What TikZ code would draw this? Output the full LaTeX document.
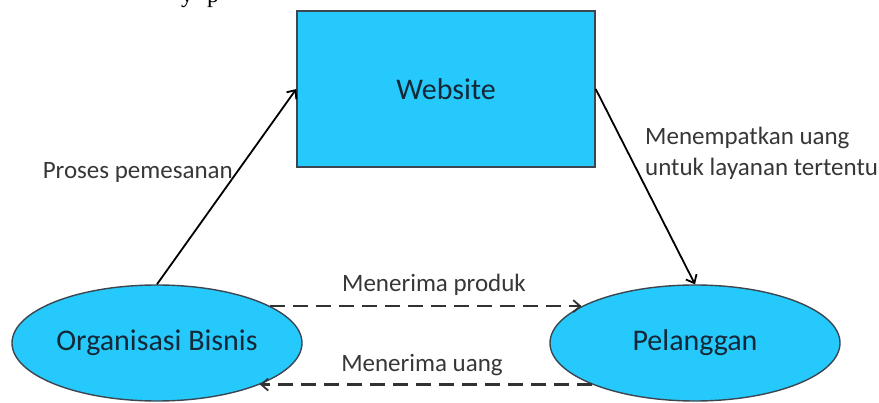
\documentclass[tikz,border=0pt]{standalone}
\usepackage{fontspec}
\setmainfont{Carlito}
\newfontfamily\seriffont{Liberation Serif}
\usetikzlibrary{shapes.geometric,arrows.meta}
\definecolor{boxfill}{RGB}{38,201,252}
\definecolor{boxline}{RGB}{60,70,80}
\definecolor{nodetext}{RGB}{20,40,55}
\definecolor{labeltext}{RGB}{55,55,55}
\definecolor{dashline}{RGB}{50,50,50}
\tikzset{
  entity/.style={draw=boxline, line width=1.4pt, fill=boxfill, text=nodetext, font=\fontsize{30}{34}\selectfont},
  webbox/.style={entity, rectangle, minimum width=298pt, minimum height=156pt, inner sep=0pt},
  oval/.style={entity, ellipse, minimum width=290pt, minimum height=116pt, inner sep=0pt},
  flowlabel/.style={text=labeltext, font=\fontsize{25}{31}\selectfont, inner sep=0pt},
  solidarrow/.style={draw=black, line width=1.8pt, -{Straight Barb[length=7pt,width=12pt,line width=1.8pt]}},
  dasharrow/.style={draw=dashline, line width=2.4pt, dash pattern=on 15pt off 8pt, -{Straight Barb[length=7pt,width=12pt,line width=1.8pt]}}
}
\begin{document}
\begin{tikzpicture}[x=1pt,y=-1pt]
\useasboundingbox (0,0) rectangle (879,403);
\begin{scope}
\clip (0,0) rectangle (879,403);
\node[anchor=base west, inner sep=0pt, font=\seriffont\fontsize{24}{28}\selectfont] (frag) at (181,3) {y\hspace{14pt}p};
\end{scope}
\node[webbox] (web) at (446,89) {Website};
\node[oval] (org) at (157,343) {Organisasi Bisnis};
\node[oval] (pel) at (695,343) {Pelanggan};
\draw[solidarrow] (org.north) -- (web.west);
\draw[solidarrow] (web.east) -- (pel.north);
\draw[dasharrow] (org.18) -- (pel.162);
\draw[dasharrow] (pel.-158) -- (org.-22);
\node[flowlabel, anchor=east] (l1) at (233,172) {Proses pemesanan};
\node[flowlabel, anchor=west, align=left] (l2) at (645,153) {Menempatkan uang\\untuk layanan tertentu};
\node[flowlabel] (l3) at (434,285) {Menerima produk};
\node[flowlabel] (l4) at (422,365) {Menerima uang};
\end{tikzpicture}
\end{document}
